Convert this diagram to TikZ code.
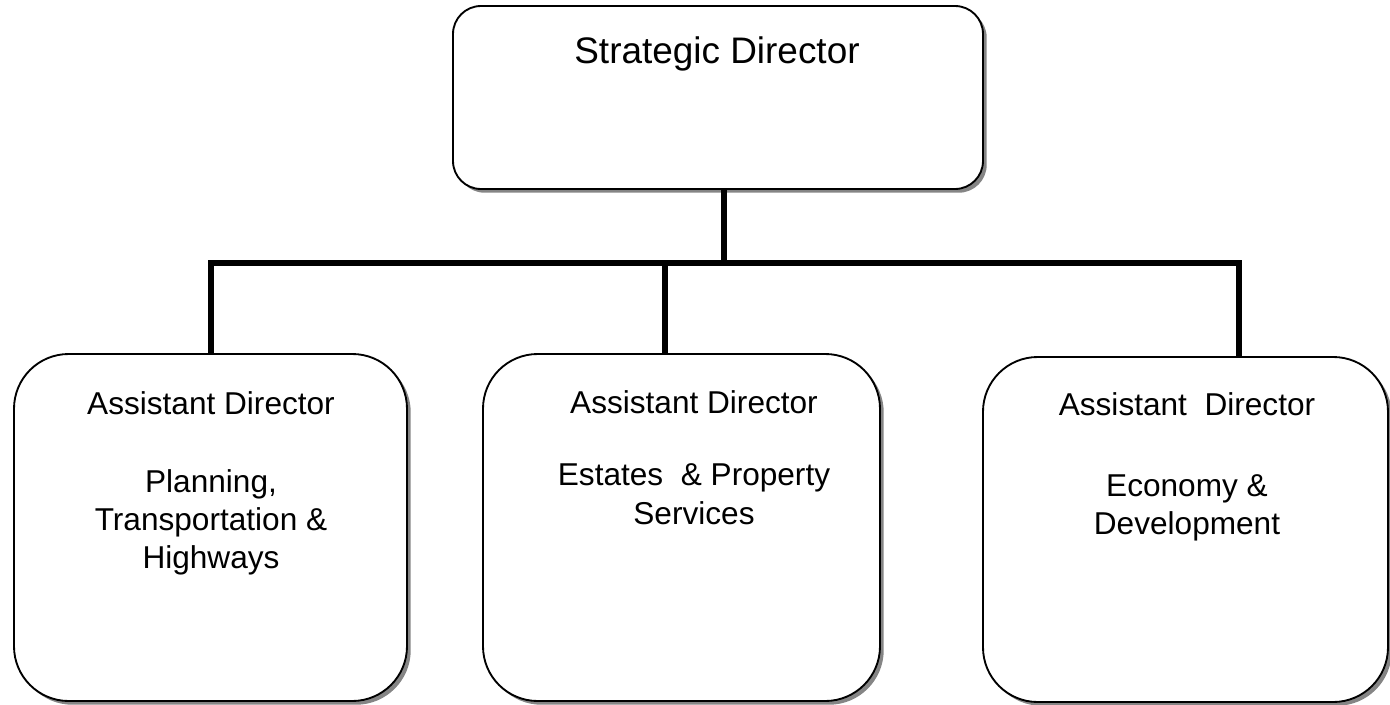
\documentclass[tikz,border=0pt]{standalone}
\usepackage{fontspec}
\setmainfont{Liberation Sans}
\usetikzlibrary{shadows}
\begin{document}
\begin{tikzpicture}[x=0.75pt,y=-0.75pt,
  box/.style={draw=black, line width=1.4pt, fill=white, rectangle, inner sep=0pt,
    drop shadow={shadow xshift=2.8pt, shadow yshift=-2.8pt, fill=black!48, opacity=1}},
  bigbox/.style={box, rounded corners=41pt},
  topbox/.style={box, rounded corners=21pt},
  conn/.style={line width=4.5pt},
  txt/.style={inner sep=0pt, align=center, anchor=north, font=\fontsize{23.7pt}{28.8pt}\selectfont},
  toptxt/.style={inner sep=0pt, align=center, anchor=base, font=\fontsize{27.7pt}{33pt}\selectfont}]
\useasboundingbox (0,0) rectangle (1390,704);

% boxes
\node[topbox, minimum width=397.5pt, minimum height=137.25pt] (sd) at (718,97.5) {};
\node[bigbox, minimum width=294.75pt, minimum height=260.25pt] (l) at (210.5,527.5) {};
\node[bigbox, minimum width=297.75pt, minimum height=260.25pt] (m) at (681.5,527.5) {};
\node[bigbox, minimum width=303.75pt, minimum height=258.75pt] (r) at (1185.5,529.5) {};

% texts
\node[toptxt] (sdt) at (717,63) {Strategic Director};
\node[txt] (lt) at (211,391) {Assistant Director\\[29.6pt]Planning,\\Transportation \&\\Highways};
\node[txt] (mt) at (694,390.5) {Assistant Director\\[25.2pt]Estates~~\& Property\\Services};
\node[txt] (rt) at (1187,392.5) {Assistant~~Director\\[31.8pt]Economy \&\\Development};

% connectors
\coordinate (bus) at (724,263);
\coordinate (mj) at (665,354);
\coordinate (rj) at (1239,356);
\draw[conn] (sd.south -| bus) -- (bus);
\draw[conn] (l.north) -- (l.north |- bus) -- (bus -| rj) -- (rj);
\draw[conn] (mj) -- (mj |- bus);
\end{tikzpicture}
\end{document}
